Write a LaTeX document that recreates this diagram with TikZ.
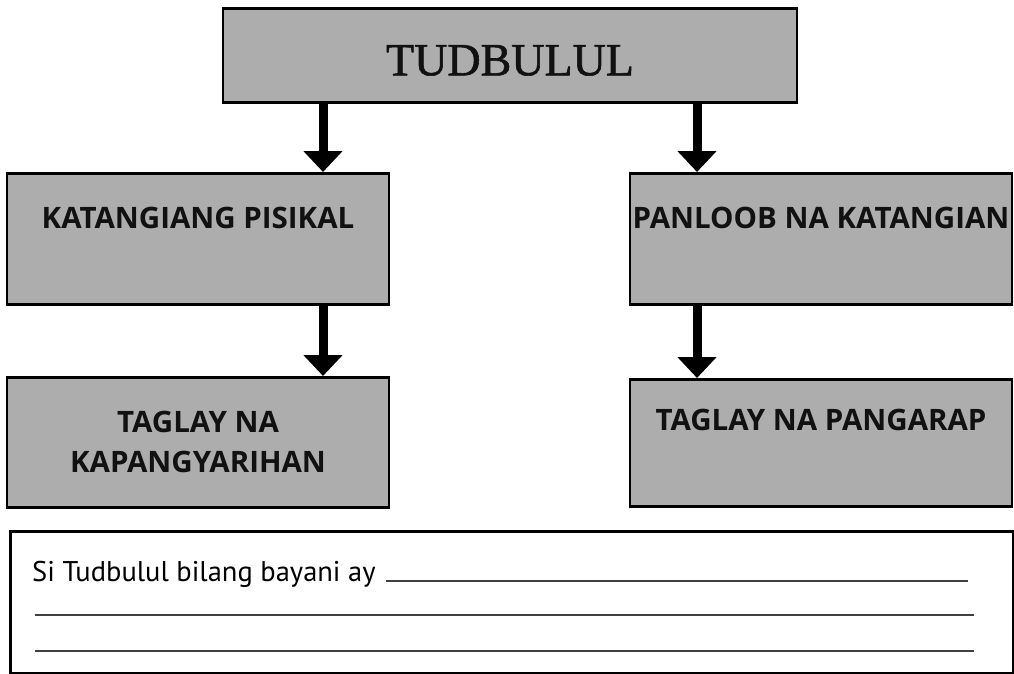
\documentclass[tikz,border=0pt]{standalone}
\usepackage{fontspec}
\setmainfont{Liberation Serif}
\newfontfamily\titlefont[FakeBold=1.3]{Liberation Serif}
\newfontfamily\lblfont{Open Sans}
\newfontfamily\txtfont{PT Sans}
\usetikzlibrary{arrows.meta}
\definecolor{boxgray}{HTML}{ADADAD}
\definecolor{ink}{HTML}{111111}
\tikzset{
  graybox/.style={draw=black, line width=2.5pt, fill=boxgray, rectangle, inner sep=0pt, text=ink},
  labeltext/.style={font=\lblfont\bfseries\fontsize{29.5}{40}\selectfont},
  downarrow/.style={line width=9pt, -{Triangle[length=21pt,width=38pt]}},
  blankline/.style={draw=black!75, line width=1.5pt}
}
\begin{document}
\begin{tikzpicture}[x=1pt,y=-1pt]
\useasboundingbox (0,0) rectangle (1014,673);
% top
\node[graybox, anchor=north, minimum width=574pt, text height=67pt, text depth=27pt, font=\titlefont\fontsize{46}{50}\selectfont] (top) at (510,7) {TUDBULUL};
% second row
\node[graybox, labeltext, anchor=north, minimum width=382pt, text height=55pt, text depth=76pt] (L2) at (198,172) {KATANGIANG PISIKAL};
\node[graybox, labeltext, anchor=north, minimum width=382pt, text height=55pt, text depth=76pt] (R2) at (821,172) {PANLOOB NA KATANGIAN};
% third row
\node[graybox, labeltext, anchor=north, minimum width=382pt, minimum height=130pt, align=center] (L3) at (198,376) {TAGLAY NA\\KAPANGYARIHAN};
\node[graybox, labeltext, anchor=north, minimum width=382pt, text height=51pt, text depth=76pt] (R3) at (821,378) {TAGLAY NA PANGARAP};
% arrows
\coordinate (ca) at (323,0);
\coordinate (cb) at (697,0);
\draw[downarrow] (ca |- top.south) -- (ca |- L2.north);
\draw[downarrow] (cb |- top.south) -- (cb |- R2.north);
\draw[downarrow] (ca |- L2.south) -- (ca |- L3.north);
\draw[downarrow] (cb |- R2.south) -- (cb |- R3.north);
% bottom box
\node[draw=black, line width=2.5pt, fill=white, rectangle, inner sep=0pt, anchor=north west, minimum width=1003pt, minimum height=142pt] (bot) at (9,530) {};
\node[anchor=base west, inner sep=0pt, font=\txtfont\fontsize{28.5}{32}\selectfont] (s1) at (32,581) {Si Tudbulul bilang bayani ay};
\coordinate (l1a) at (386,581);
\coordinate (l1b) at (968,581);
\coordinate (l2a) at (35,615);
\coordinate (l2b) at (974,615);
\coordinate (l3a) at (35,651);
\coordinate (l3b) at (974,651);
\draw[blankline] (l1a) -- (l1b);
\draw[blankline] (l2a) -- (l2b);
\draw[blankline] (l3a) -- (l3b);
\end{tikzpicture}
\end{document}
